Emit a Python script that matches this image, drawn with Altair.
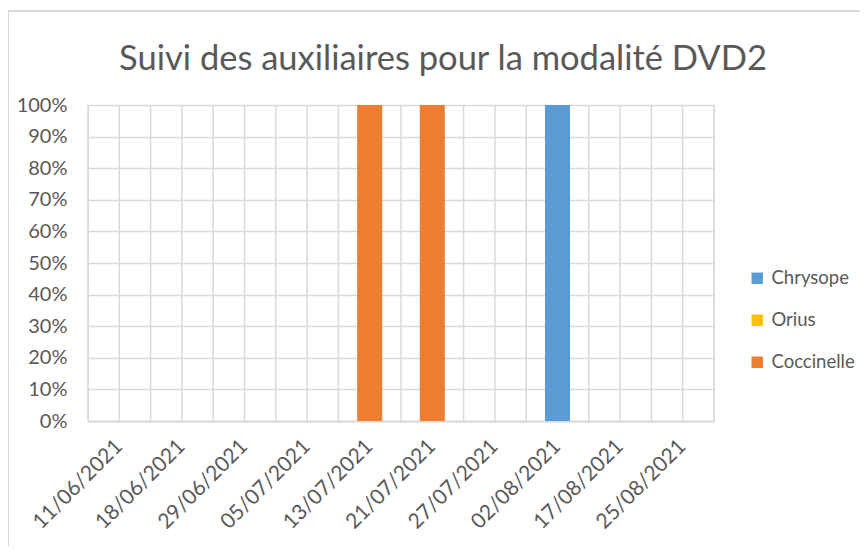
import altair as alt
import pandas as pd

dates = ["11/06/2021", "18/06/2021", "29/06/2021", "05/07/2021", "13/07/2021",
         "21/07/2021", "27/07/2021", "02/08/2021", "17/08/2021", "25/08/2021"]
series = ["Chrysope", "Orius", "Coccinelle"]
colors = ["#5B9BD5", "#FFC000", "#ED7D31"]
chrysope = [0, 0, 0, 0, 0, 0, 0, 1.0, 0, 0]
orius = [0, 0, 0, 0, 0, 0, 0, 0, 0, 0]
coccinelle = [0, 0, 0, 0, 1.0, 1.0, 0, 0, 0, 0]
y_ticks = [0, 0.1, 0.2, 0.3, 0.4, 0.5, 0.6, 0.7, 0.8, 0.9, 1.0]

rows = []
for name, vals, order in [("Coccinelle", coccinelle, 0), ("Orius", orius, 1), ("Chrysope", chrysope, 2)]:
    for d, v in zip(dates, vals):
        rows.append({"date": d, "serie": name, "value": v, "ord": order})
df = pd.DataFrame(rows)

# vertical gridlines: category boundaries and category centers
grid_df = pd.DataFrame({"g": [i / 2 for i in range(2 * len(dates) + 1)]})

W, H = 626, 316
FONT = "Lato"
TXT = "#595959"
GRID = "#d9d9d9"

vgrid = alt.Chart(grid_df).mark_rule(color=GRID, strokeWidth=1.5).encode(
    x=alt.X("g:Q", scale=alt.Scale(domain=[0, len(dates)], nice=False, zero=False), axis=None)
)

bars = alt.Chart(df).mark_bar().encode(
    x=alt.X("date:N", sort=dates,
            scale=alt.Scale(paddingInner=0.6, paddingOuter=0.3),
            axis=alt.Axis(title=None, labelAngle=-45, labelAlign="right", labelBaseline="middle",
                          labelFont=FONT, labelFontSize=21, labelColor=TXT, labelPadding=22,
                          ticks=False, domain=True, domainColor=GRID, domainWidth=2,
                          grid=False, labelOverlap=False)),
    y=alt.Y("value:Q", stack="zero",
            scale=alt.Scale(domain=[0, 1], nice=False),
            axis=alt.Axis(title=None, values=y_ticks, format=".0%", labelFont=FONT,
                          labelFontSize=20, labelColor=TXT, labelPadding=21, ticks=False,
                          domain=False, grid=True, gridColor=GRID, gridWidth=1.5)),
    color=alt.Color("serie:N",
                    scale=alt.Scale(domain=series, range=colors),
                    legend=alt.Legend(title=None, orient="none", legendX=660, legendY=164,
                                      symbolType="square", symbolSize=130, symbolStrokeWidth=0,
                                      labelFont=FONT, labelFontSize=18.5, labelColor=TXT,
                                      rowPadding=23, labelOffset=5)),
    order=alt.Order("ord:Q"),
)

border_top = alt.Chart(grid_df).mark_rule(color=GRID, strokeWidth=2).encode(
    x=alt.value(-80), x2=alt.value(W + 150), y=alt.value(-94)
)
border_left = alt.Chart(grid_df).mark_rule(color=GRID, strokeWidth=2).encode(
    x=alt.value(-80), y=alt.value(-94), y2=alt.value(H + 130)
)

chart = alt.layer(vgrid, bars, border_top, border_left).resolve_scale(x="independent").properties(
    width=W, height=H,
    title=alt.TitleParams("Suivi des auxiliaires pour la modalité DVD2", font=FONT, fontSize=34.5,
                          fontWeight="normal", color=TXT, anchor="middle", dx=42, offset=-67,
                          frame="group"),
    autosize=alt.AutoSizeParams(type="none"),
    padding={"left": 80, "top": 97, "right": 146, "bottom": 125},
).configure_view(stroke=None).configure(background="white")

chart.save("out.html", embed_options={"renderer": "svg", "actions": False})
